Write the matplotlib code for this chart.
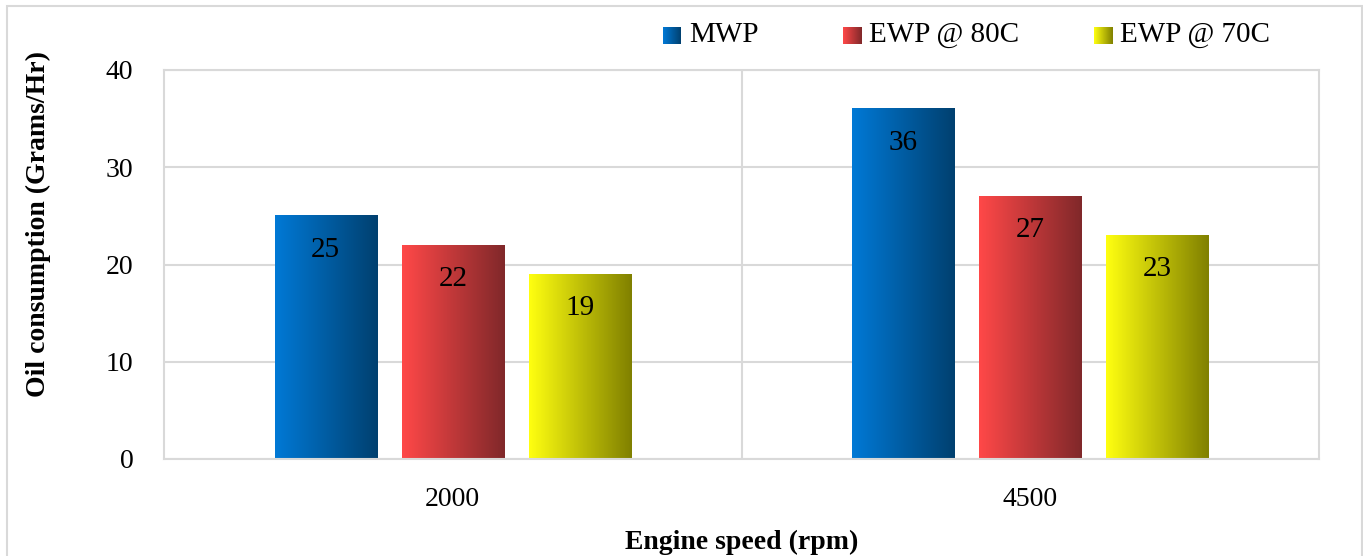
import numpy as np
import matplotlib
matplotlib.use('Agg')
import matplotlib.pyplot as plt
from matplotlib.colors import LinearSegmentedColormap
from matplotlib.patches import Rectangle

categories = ['2000', '4500']
series = ['MWP', 'EWP @ 80C', 'EWP @ 70C']
values = {
    'MWP': [25, 36],
    'EWP @ 80C': [22, 27],
    'EWP @ 70C': [19, 23],
}
grads = {
    'MWP': ('#0079d6', '#00406f'),
    'EWP @ 80C': ('#ff4848', '#80282a'),
    'EWP @ 70C': ('#ffff10', '#808000'),
}

plt.rcParams['font.family'] = ['Liberation Serif', 'DejaVu Serif']

fig = plt.figure(figsize=(13.63, 5.56), dpi=100)
ax = fig.add_axes([164 / 1363, 1 - 459 / 556, 1155 / 1363, 389 / 556])

# outer chart frame
fig.patches.append(Rectangle((7 / 1363, -0.01), 1355 / 1363, 1 - 6 / 556 + 0.01,
                             transform=fig.transFigure, fill=False,
                             edgecolor='#d9d9d9', linewidth=1.5))

x = np.arange(len(categories))
width = 0.177
step = 0.22
grad = np.linspace(0, 1, 256).reshape(1, -1)

for i, name in enumerate(series):
    cmap = LinearSegmentedColormap.from_list(name, grads[name])
    for j, v in enumerate(values[name]):
        x0 = x[j] + (i - 1) * step - width / 2
        ax.imshow(grad, cmap=cmap, aspect='auto', extent=(x0, x0 + width, 0, v),
                  zorder=2)
        ax.text(x0 + width / 2, v - 4.2, str(v), ha='center', va='baseline',
                fontsize=21, zorder=3)

ax.set_xlim(-0.5, 1.5)
ax.set_ylim(0, 40)
ax.set_yticks([0, 10, 20, 30, 40])
ax.set_xticks(x)
ax.set_xticklabels(categories)
ax.tick_params(length=0, labelsize=20)
ax.tick_params(axis='y', pad=22)
ax.tick_params(axis='x', pad=20)
ax.yaxis.grid(True, color='#d9d9d9', linewidth=1.5, zorder=0)
ax.axvline(0.5, color='#d9d9d9', linewidth=1.5, zorder=0)
ax.set_axisbelow(True)
for s in ax.spines.values():
    s.set_color('#d9d9d9')
    s.set_linewidth(1.5)

ax.set_ylabel('Oil consumption (Grams/Hr)', fontsize=20, fontweight='bold')
ax.yaxis.set_label_coords(-0.098, 0.604)
ax.set_xlabel('Engine speed (rpm)', fontsize=20, fontweight='bold')
ax.xaxis.set_label_coords(0.5, -0.183)

# legend with gradient swatches
lx = [663, 843, 1094]
for k, name in enumerate(series):
    cmap = LinearSegmentedColormap.from_list(name + '_l', grads[name])
    lax = fig.add_axes([lx[k] / 1363, 1 - 44 / 556, 18 / 1363, 17 / 556])
    lax.imshow(grad, cmap=cmap, aspect='auto')
    lax.axis('off')
    fig.text((lx[k] + 26) / 1363, 1 - 35 / 556, name, fontsize=21, va='center')

fig.savefig('out.png', dpi=100, facecolor='white')
